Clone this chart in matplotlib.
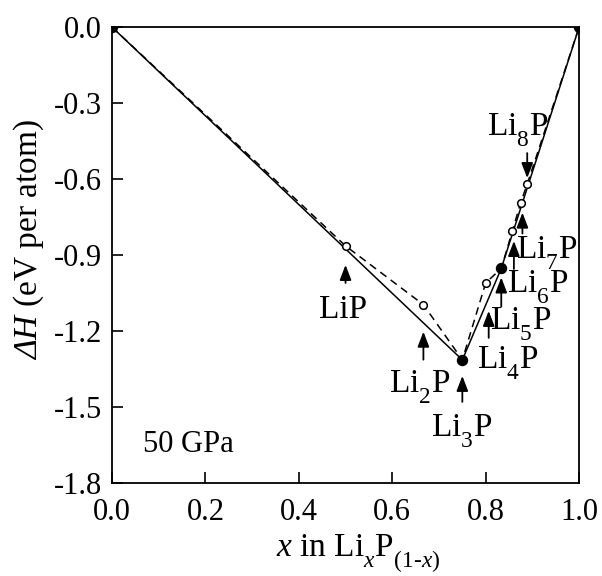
import matplotlib
matplotlib.use("Agg")
import matplotlib.pyplot as plt
from matplotlib.transforms import offset_copy

try:
    import matplotlib._mathtext as _mt
    _mt.FontConstantsBase.sub1 = 0.7
except Exception:
    pass

plt.rcParams['font.family'] = ['Liberation Serif', 'DejaVu Serif']
plt.rcParams['mathtext.fontset'] = 'custom'
plt.rcParams['mathtext.rm'] = 'Liberation Serif'
plt.rcParams['mathtext.it'] = 'Liberation Serif:italic'
plt.rcParams['mathtext.sf'] = 'Liberation Serif:italic'
plt.rcParams['mathtext.bf'] = 'Liberation Serif:bold'
plt.rcParams['axes.unicode_minus'] = False

# Data (x = Li fraction, dH in eV/atom)
names = ['LiP', 'Li$_2$P', 'Li$_3$P', 'Li$_4$P', 'Li$_5$P', 'Li$_6$P', 'Li$_7$P', 'Li$_8$P']
x_comp = [1/2, 2/3, 3/4, 4/5, 5/6, 6/7, 7/8, 8/9]
dH = [-0.864, -1.096, -1.314, -1.010, -0.953, -0.805, -0.693, -0.620]
stable = [False, False, True, False, True, False, False, False]
end_x = [0.0, 1.0]
end_dH = [0.0, 0.0]

xticks = [0.0, 0.2, 0.4, 0.6, 0.8, 1.0]
yticks = [0.0, -0.3, -0.6, -0.9, -1.2, -1.5, -1.8]

fig = plt.figure(figsize=(6.02, 5.76), dpi=100)
ax = fig.add_axes([0.186, 0.1615, 0.776, 0.7915])

# dashed line through all structures
all_x = [end_x[0]] + x_comp + [end_x[1]]
all_y = [end_dH[0]] + dH + [end_dH[1]]
ax.plot(all_x, all_y, ls=(0, (5, 3.5)), color='k', lw=1.1, zorder=2)

# convex hull (solid)
hx = [end_x[0]] + [xv for xv, s in zip(x_comp, stable) if s] + [end_x[1]]
hy = [end_dH[0]] + [yv for yv, s in zip(dH, stable) if s] + [end_dH[1]]
ax.plot(hx, hy, ls='-', color='k', lw=1.1, zorder=3)

# markers
ux = [xv for xv, s in zip(x_comp, stable) if not s]
uy = [yv for yv, s in zip(dH, stable) if not s]
ax.plot(ux, uy, 'o', ms=5.5, mfc='white', mec='k', mew=1.1, ls='none', zorder=4)
ax.plot(hx, hy, 'o', ms=7.2, mfc='k', mec='k', ls='none', zorder=5)

# label / arrow offsets in pixels relative to each point
# (text dx, text dy, ha, arrow dx, arrow tip dy, arrow base dy)
lab_style = [
    (-2, -72, 'center', 0, -19, -37),
    (-4, -88, 'center', 0, -27, -55),
    (-1, -77, 'center', 0, -16, -42),
    (-9, -86, 'left', 3, -28, -55),
    (-11, -61, 'left', 0, -9, -38),
    (-5, -62, 'left', 1.5, -10, -38),
    (-5, -56, 'left', 1.7, -10, -31),
    (-40, 48, 'left', 0, 6, 31),
]

for name, xv, yv, st in zip(names, x_comp, dH, lab_style):
    tdx, tdy, ha, adx, atip, abase = st
    ax.annotate(name, xy=(xv, yv), xytext=(tdx, tdy), textcoords='offset pixels',
                ha=ha, va='baseline', fontsize=24, zorder=6)
    tr = offset_copy(ax.transData, fig=fig, x=adx, y=atip, units='dots')
    ax.annotate('', xy=(xv, yv), xycoords=tr, xytext=(0, abase - atip),
                textcoords='offset pixels',
                arrowprops=dict(arrowstyle='-|>,head_length=0.65,head_width=0.25',
                                color='k', lw=1.3, shrinkA=0, shrinkB=0,
                                mutation_scale=14), zorder=6)

ax.text(0.066, 0.069, '50 GPa', transform=ax.transAxes, fontsize=22,
        ha='left', va='baseline')

ax.set_xlim(0, 1)
ax.set_ylim(-1.8, 0)
ax.set_xticks(xticks)
ax.set_yticks(yticks)
ax.set_xticklabels([f'{v:.1f}' for v in xticks])
ax.set_yticklabels([f'{v:.1f}' for v in yticks])
ax.tick_params(axis='both', direction='in', length=8, width=1.2, labelsize=22,
               top=False, right=False)
ax.tick_params(axis='x', pad=11)
ax.tick_params(axis='y', pad=7)
for sp in ax.spines.values():
    sp.set_linewidth(1.3)

ax.set_xlabel(r'$x$ in Li$_{x}$P$_{(1\text{-}x)}$', fontsize=24, labelpad=4)
ax.xaxis.label.set_x(0.526)
ax.set_ylabel(r'$\mathsf{ΔH}$ (eV per atom)', fontsize=24, labelpad=6)
ax.yaxis.label.set_y(0.533)

fig.savefig('out.png', dpi=100)
